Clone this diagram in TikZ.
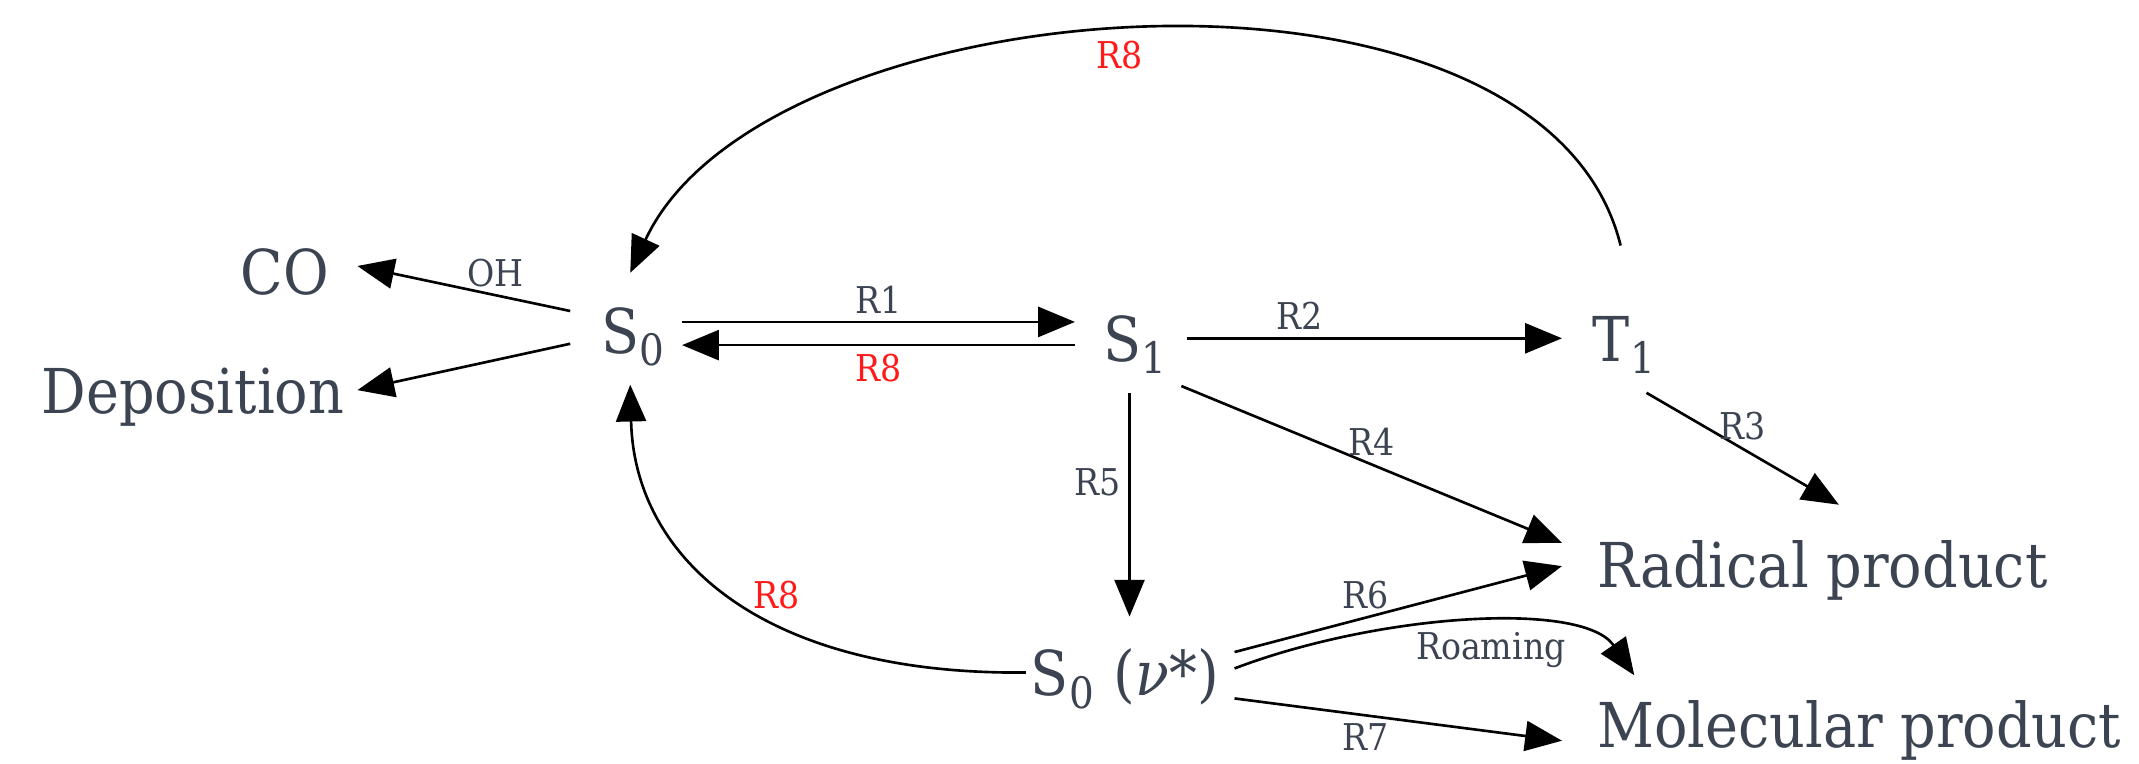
\documentclass[tikz,border=0pt]{standalone}
\usepackage{fontspec}
\setmainfont{DejaVu Serif}[FakeStretch=0.9]
\usetikzlibrary{arrows.meta}
\definecolor{ink}{HTML}{3C4452}
\definecolor{rxred}{HTML}{FF1A1A}

\begin{document}
\begin{tikzpicture}[x=0.1mm,y=0.1mm,
  state/.style={text=ink,font=\fontsize{12.9}{15}\selectfont,inner sep=0pt},
  rx/.style={-{Triangle[length=2.7mm,width=2.2mm]},line width=0.55pt},
  lab/.style={text=ink,font=\fontsize{7.7}{9}\selectfont,inner sep=1.5pt},
  back/.style={lab,text=rxred}]
  \useasboundingbox (0,0) rectangle (1568,560);
  % states and products
  \node[state,anchor=base east] (co) at (242,344) {CO};
  \node[state,anchor=base east] (dep) at (253,257) {Deposition};
  \node[state,anchor=base west] (sz) at (440,301) {S\textsubscript{0}};
  \node[state,anchor=base west] (so) at (808,295) {S\textsubscript{1}};
  \node[state,anchor=base west] (to) at (1167,295) {T\textsubscript{1}};
  \node[state,anchor=base west] (szv) at (755,50) {S\textsubscript{0} (\textit{ν}*)};
  \node[state,anchor=base west] (rad) at (1170,129) {Radical product};
  \node[state,anchor=base west] (mol) at (1170,12) {Molecular product};
  % from S0
  \draw[rx] ([shift={(-22,31)}]sz.base west) -- node[lab,above,pos=0.35]{OH} ([shift={(20,21)}]co.base east);
  \draw[rx] ([shift={(-22,7)}]sz.base west) -- ([shift={(9,17)}]dep.base east);
  \draw[rx] ([shift={(60,23)}]sz.base west) -- node[lab,above]{R1} ([shift={(-20,29)}]so.base west);
  % from S1
  \draw[rx] ([shift={(-20,12)}]so.base west) -- node[back,below]{R8} ([shift={(60,6)}]sz.base west);
  \draw[rx] ([shift={(62,17)}]so.base west) -- node[lab,above,pos=0.3]{R2} ([shift={(-22,17)}]to.base west);
  \draw[rx] ([shift={(58,-18)}]so.base west) -- node[lab,above]{R4} ([shift={(-25,33)}]rad.base west);
  \draw[rx] ([shift={(20,-23)}]so.base west) -- node[lab,left,pos=0.4]{R5} ([shift={(73,58)}]szv.base west);
  % from T1
  \draw[rx] ([shift={(21,85)}]to.base west) .. controls (1130,615) and (560,572) .. node[back,below,pos=0.52]{R8} ([shift={(22,59)}]sz.base west);
  \draw[rx] ([shift={(40,-23)}]to.base west) -- node[lab,above]{R3} ([shift={(178,61)}]rad.base west);
  % from S0(v*)
  \draw[rx] ([shift={(-3,17)}]szv.base west) .. controls (560,65) and (465,150) .. node[back,pos=0.5,right=1mm]{R8} ([shift={(22,-23)}]sz.base west);
  \draw[rx] ([shift={(150,32)}]szv.base west) -- node[lab,above,pos=0.4]{R6} ([shift={(-25,16)}]rad.base west);
  \draw[rx] ([shift={(150,20)}]szv.base west) .. controls (1010,110) and (1160,120) .. node[lab,below,pos=0.55]{Roaming} ([shift={(28,53)}]mol.base west);
  \draw[rx] ([shift={(150,-2)}]szv.base west) -- node[lab,below,pos=0.4]{R7} ([shift={(-25,5)}]mol.base west);
\end{tikzpicture}
\end{document}
